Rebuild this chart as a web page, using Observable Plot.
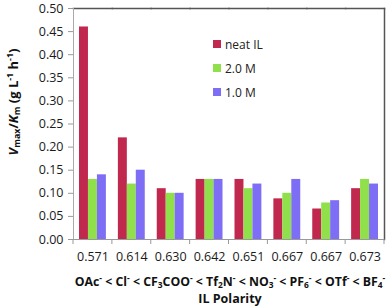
<!DOCTYPE html>
<html>
<head>
<meta charset="utf-8">
<script src="https://cdn.jsdelivr.net/npm/d3@7"></script>
<script src="https://cdn.jsdelivr.net/npm/@observablehq/plot@0.6"></script>
<style>
  body { margin: 0; background: #fff; font-family: "Open Sans", sans-serif; }
  #wrap { position: relative; width: 392px; height: 308px; }
  #wrap svg { position: absolute; left: 0; top: 0; overflow: visible; }
  sup, sub { font-size: 0.68em; line-height: 0; }
  sup { vertical-align: 0.55em; }
  sub { vertical-align: -0.25em; }
  .lab { position: absolute; white-space: nowrap; font-weight: bold; color: #111; }
  #ylab { left: 13px; top: 102px; transform: translate(-50%, -50%) rotate(-90deg); font-size: 13px; }
  #anions { left: 230px; top: 281px; transform: translate(-50%, -50%); font-size: 12.3px; }
  #pol { left: 230px; top: 298px; transform: translate(-50%, -50%); font-size: 12.5px; }
  #legend { position: absolute; left: 213px; top: 32px; font-size: 12px; color: #222; }
  .row { display: flex; align-items: center; height: 24px; }
  .sw { width: 8px; height: 8px; margin-right: 4px; }
</style>
</head>
<body>
<div id="wrap">
  <div id="ylab" class="lab"><i>V</i><sub>max</sub>/<i>K</i><sub>m</sub> (g L<sup>-1</sup> h<sup>-1</sup>)</div>
  <div id="anions" class="lab"></div>
  <div id="pol" class="lab">IL Polarity</div>
  <div id="legend"></div>
</div>
<script>
const xLabels = ["0.571", "0.614", "0.630", "0.642", "0.651", "0.667", "0.667", "0.673"];
const series = ["neat IL", "2.0 M", "1.0 M"];
const colors = ["#c1284e", "#8fe04b", "#7d6ef5"];
const neatIL = [0.46, 0.22, 0.11, 0.13, 0.13, 0.088, 0.066, 0.11];
const m20 = [0.13, 0.12, 0.10, 0.13, 0.11, 0.10, 0.079, 0.13];
const m10 = [0.14, 0.15, 0.10, 0.13, 0.12, 0.13, 0.084, 0.12];
const yTicks = [0, 0.05, 0.10, 0.15, 0.20, 0.25, 0.30, 0.35, 0.40, 0.45, 0.50];
const anions = ["OAc<sup>-</sup>", "Cl<sup>-</sup>", "CF<sub>3</sub>COO<sup>-</sup>", "Tf<sub>2</sub>N<sup>-</sup>",
  "NO<sub>3</sub><sup>-</sup>", "PF<sub>6</sub><sup>-</sup>", "OTf<sup>-</sup>", "BF<sub>4</sub><sup>-</sup>"];

const cats = xLabels.map((_, i) => i);
const valuesBySeries = [neatIL, m20, m10];
const data = [];
cats.forEach(i => series.forEach((s, j) => data.push({cat: i, series: s, value: valuesBySeries[j][i]})));

const chart = Plot.plot({
  width: 392,
  height: 308,
  marginLeft: 73,
  marginRight: 8,
  marginTop: 8,
  marginBottom: 69,
  style: {fontFamily: "'Open Sans', sans-serif", fontSize: "12px", color: "#1a1a1a", background: "transparent", overflow: "visible"},
  fx: {domain: cats, padding: 0, round: false, label: null, axis: null},
  x: {domain: series, paddingInner: 0, paddingOuter: 0.67, round: false, axis: null},
  y: {domain: [0, 0.5], label: null},
  color: {domain: series, range: colors},
  marks: [
    Plot.barY(data, {fx: "cat", x: "series", y: "value", fill: "series"}),
    Plot.frame({anchor: "top", stroke: "#555", strokeWidth: 1.5}),
    Plot.frame({anchor: "right", facetAnchor: "right", stroke: "#555", strokeWidth: 1.5}),
    Plot.frame({anchor: "left", facetAnchor: "left", stroke: "#aaa"}),
    Plot.ruleY([0], {stroke: "#999"}),
    Plot.axisY({ticks: yTicks, tickFormat: d3.format(".2f"), tickSize: 5, tickPadding: 5, stroke: "#999", fontSize: 12.5, label: null}),
    Plot.axisFx({anchor: "bottom", tickSize: 0, tickPadding: 13, tickFormat: i => xLabels[i], fontSize: 12.5, label: null})
  ]
});
document.getElementById("wrap").prepend(chart);

// boundary ticks below the x axis, from the fx band scale
const fx = chart.scale("fx");
const y = chart.scale("y");
const y0 = y.apply(0);
const bounds = fx.domain.map(d => fx.apply(d)).concat([fx.apply(fx.domain[fx.domain.length - 1]) + fx.bandwidth]);
d3.select(chart).append("g").selectAll("line").data(bounds).join("line")
  .attr("x1", d => d).attr("x2", d => d)
  .attr("y1", y0).attr("y2", y0 + 5)
  .attr("stroke", "#999");

document.getElementById("anions").innerHTML = anions.join(" &lt; ");
const lg = d3.select("#legend");
series.forEach((s, j) => {
  const r = lg.append("div").attr("class", "row");
  r.append("div").attr("class", "sw").style("background", colors[j]);
  r.append("span").text(s);
});
</script>
</body>
</html>
